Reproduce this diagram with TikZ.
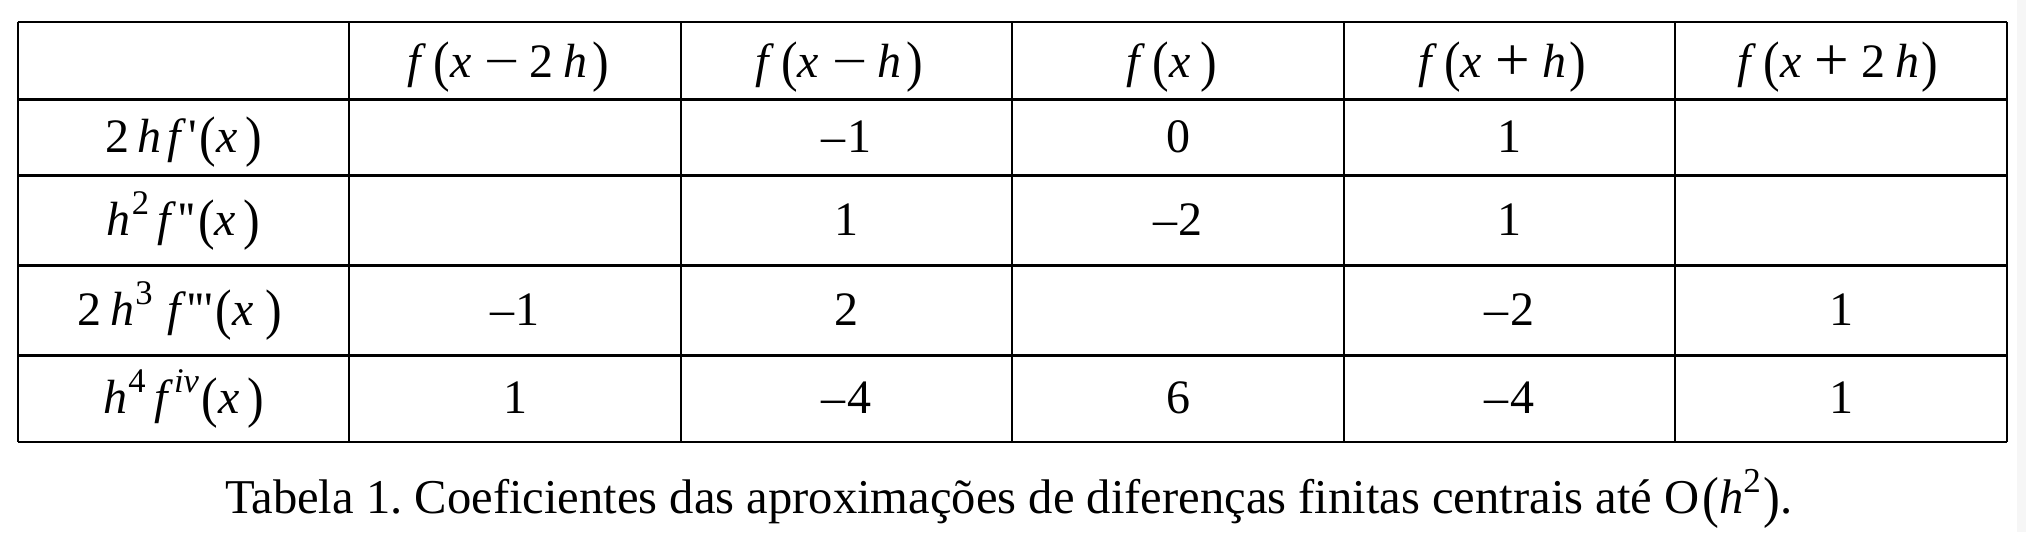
\documentclass[tikz,border=0pt]{standalone}
\usepackage{fontspec}
\setmainfont{Liberation Serif}
\newfontfamily\rawf{Liberation Serif}[Ligatures=TeXOff]
\usepackage{graphicx}
\frenchspacing
\newcommand{\vi}[1]{\textit{#1}}
\newcommand{\lpar}{\raisebox{-0.07em}{\scalebox{1.04}[1.16]{(}}}
\newcommand{\rpar}{\raisebox{-0.07em}{\scalebox{1.04}[1.16]{)}}}
\newcommand{\spw}[1]{\raisebox{0.42em}{\scalebox{0.72}{#1}}}
\newcommand{\pone}{{\rawf\symbol{39}}}
\newcommand{\ptwo}{{\rawf\symbol{39}\kern-0.01em\symbol{39}}}
\newcommand{\pthree}{{\rawf\symbol{39}\kern-0.01em\symbol{39}\kern-0.01em\symbol{39}}}
\newcommand{\mn}{–\kern0.03em}
\newcommand{\opm}{\kern0.28em\scalebox{1.3}[1]{−}\kern0.2em}
\newcommand{\opp}{\kern0.28em\raisebox{-0.07em}{\scalebox{1.28}{+}}\kern0.25em}
\begin{document}
\begin{tikzpicture}[x=0.5pt,y=-0.5pt,
  cell/.style={anchor=base,inner sep=0pt,font=\fontsize{24}{24}\selectfont\frenchspacing},
  captext/.style={anchor=base,inner sep=0pt,font=\fontsize{24.3}{24.3}\selectfont\frenchspacing},
  vline/.style={line width=1pt,black},
  hline/.style={line width=1.5pt,black},
  bline/.style={line width=1.1pt,black}]
\useasboundingbox (0,0) rectangle (2026,532);
\fill[white] (0,0) rectangle (2026,532);
\fill[gray!7] (2017,0) rectangle (2026,532);
% grid
\foreach \xx in {17.7,349.2,680.7,1012.2,1343.7,1675.2,2006.7}
  \draw[vline] (\xx,22) -- (\xx,442);
\draw[bline] (17.7,22) -- (2006.7,22);
\foreach \yy in {99,175,265,355}
  \draw[hline] (17.7,\yy) -- (2006.7,\yy);
\draw[bline] (17.7,442) -- (2006.7,442);
% header
\node[cell] (h1) at (508,77) {\vi{f}\kern0.15em\lpar\vi{x}\opm2\kern0.2em\vi{h}\kern0.1em\rpar};
\node[cell] (h2) at (839,77) {\vi{f}\kern0.15em\lpar\vi{x}\opm\vi{h}\kern0.1em\rpar};
\node[cell] (h3) at (1172,77) {\vi{f}\kern0.15em\lpar\vi{x}\kern0.2em\rpar};
\node[cell] (h4) at (1502,77) {\vi{f}\kern0.15em\lpar\vi{x}\opp\vi{h}\kern0.06em\rpar};
\node[cell] (h5) at (1838,77) {\vi{f}\kern0.15em\lpar\vi{x}\opp2\kern0.2em\vi{h}\kern0.06em\rpar};
% row labels
\node[cell] (r1) at (183.5,152) {2\kern0.18em\vi{h}\kern0.12em\vi{f}\kern0.04em\pone\kern0.06em\lpar\vi{x}\kern0.15em\rpar};
\node[cell] (r2) at (183.5,235) {\vi{h}\kern0.02em\spw{2}\kern0.18em\vi{f}\kern0.04em\ptwo\kern0.06em\lpar\vi{x}\kern0.15em\rpar};
\node[cell] (r3) at (180,325) {2\kern0.18em\vi{h}\kern0.02em\spw{3}\kern0.3em\vi{f}\kern0.04em\pthree\kern0.06em\lpar\vi{x}\kern0.25em\rpar};
\node[cell] (r4) at (183.5,413) {\vi{h}\kern0.02em\spw{4}\kern0.18em\vi{f}\kern0.02em\spw{\vi{iv}}\kern0.06em\lpar\vi{x}\kern0.15em\rpar};
% row 1
\node[cell] (c12) at (846.5,152) {\mn1};
\node[cell] (c13) at (1178,152) {0};
\node[cell] (c14) at (1509.5,152) {1};
% row 2
\node[cell] (c22) at (846.5,235) {1};
\node[cell] (c23) at (1178,235) {\mn2};
\node[cell] (c24) at (1509.5,235) {1};
% row 3
\node[cell] (c31) at (515,325) {\mn1};
\node[cell] (c32) at (846.5,325) {2};
\node[cell] (c34) at (1509.5,325) {\mn2};
\node[cell] (c35) at (1841,325) {1};
% row 4
\node[cell] (c41) at (515,413) {1};
\node[cell] (c42) at (846.5,413) {\mn4};
\node[cell] (c43) at (1178,413) {6};
\node[cell] (c44) at (1509.5,413) {\mn4};
\node[cell] (c45) at (1841,413) {1};
% caption
\node[captext] (caption) at (1009,513) {Tabela 1. Coeficientes das aproximações de diferenças finitas centrais até O\kern0.06em\lpar\vi{h}\spw{2}\kern0.06em\rpar.};
\end{tikzpicture}
\end{document}
